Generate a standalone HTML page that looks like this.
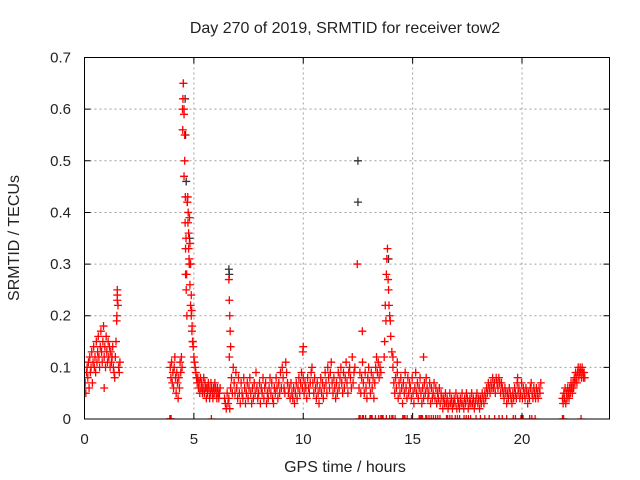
<!DOCTYPE html>
<html><head><meta charset="utf-8"><style>
html,body{margin:0;padding:0;background:#fff;}
svg{display:block;font-family:"Liberation Sans",sans-serif;}
</style></head><body>
<svg id="chart" width="640" height="480" viewBox="0 0 640 480" xmlns="http://www.w3.org/2000/svg">
<defs><clipPath id="plotclip"><rect x="84.5" y="57.5" width="525" height="361.5"/></clipPath></defs>
<rect width="640" height="480" fill="#fff"/>
<g id="grid"></g>
<g id="ticks"></g>
<g id="marks" clip-path="url(#plotclip)"></g>
<rect x="84.5" y="57.5" width="525" height="361.5" fill="none" stroke="#000" stroke-width="1"/>
<text x="345" y="33" font-size="16" text-anchor="middle" fill="#222">Day 270 of 2019, SRMTID for receiver tow2</text>
<text x="345" y="472" font-size="16" text-anchor="middle" fill="#222">GPS time / hours</text>
<text x="0" y="0" font-size="16" text-anchor="middle" fill="#222" transform="translate(19,238) rotate(-90)">SRMTID / TECUs</text>
</svg>
<script>
const xTicks = [0,5,10,15,20];
const yTicks = [0,0.1,0.2,0.3,0.4,0.5,0.6,0.7];
const yTickLabels = ["0","0.1","0.2","0.3","0.4","0.5","0.6","0.7"];
const segStart = [0.0,3.92,6.4,12.55,14.1,21.85];
const segStep = [0.03,0.03,0.04,0.04,0.04,0.03];
const segA = [0.06,0.07,0.05,0.09,0.1,0.08,0.11,0.06,0.12,0.09,0.1,0.13,0.07,0.11,0.14,0.1,0.12,0.09,0.15,0.11,0.13,0.16,0.12,0.1,0.14,0.17,0.13,0.11,0.15,0.18,0.12,0.14,0.1,0.16,0.13,0.11,0.15,0.12,0.14,0.1,0.13,0.11,0.12,0.14,0.1,0.09,0.08,0.12,0.15,0.19,0.25,0.22,0.1,0.09,0.11];
const segB = [0.1,0.08,0.11,0.07,0.09,0.06,0.1,0.12,0.08,0.05,0.09,0.07,0.04,0.08,0.06,0.11,0.09,0.12,0.1,0.56,0.65,0.6,0.5,0.43,0.35,0.28,0.42,0.38,0.33,0.3,0.26,0.22,0.2,0.17,0.15,0.14,0.12,0.11,0.1,0.09,0.08,0.07,0.08,0.06,0.07,0.05,0.08,0.06,0.07,0.05,0.06,0.08,0.05,0.07,0.06,0.04,0.06,0.05,0.07,0.06,0.04,0.05,0.07,0.06,0.05,0.04,0.06,0.05,0.07,0.06,0.05,0.04,0.06,0.05,0.04,0.05,0.06];
const segC = [0.04,0.03,0.02,0.05,0.03,0.04,0.02,0.06,0.08,0.05,0.1,0.07,0.05,0.09,0.06,0.04,0.08,0.05,0.03,0.07,0.05,0.04,0.08,0.06,0.03,0.05,0.07,0.04,0.06,0.08,0.05,0.03,0.06,0.04,0.07,0.05,0.09,0.06,0.04,0.05,0.07,0.03,0.06,0.05,0.08,0.04,0.06,0.07,0.03,0.05,0.04,0.06,0.08,0.05,0.07,0.04,0.03,0.06,0.05,0.08,0.06,0.04,0.07,0.05,0.09,0.06,0.1,0.08,0.06,0.05,0.11,0.09,0.07,0.05,0.06,0.04,0.07,0.05,0.04,0.06,0.03,0.05,0.07,0.04,0.06,0.08,0.05,0.07,0.09,0.06,0.08,0.05,0.07,0.06,0.04,0.08,0.06,0.05,0.07,0.09,0.1,0.07,0.05,0.08,0.06,0.04,0.07,0.05,0.03,0.06,0.08,0.05,0.07,0.04,0.06,0.09,0.07,0.05,0.1,0.08,0.06,0.09,0.11,0.07,0.05,0.08,0.06,0.04,0.07,0.05,0.09,0.06,0.08,0.1,0.07,0.05,0.09,0.06,0.08,0.11,0.07,0.05,0.09,0.1,0.08,0.06,0.12,0.07,0.09,0.1];
const segD = [0.06,0.09,0.05,0.08,0.11,0.07,0.05,0.09,0.06,0.04,0.08,0.1,0.07,0.05,0.09,0.06,0.08,0.04,0.07,0.1,0.12,0.09,0.11,0.08,0.1,0.09];
const segE = [0.1,0.07,0.05,0.08,0.06,0.09,0.04,0.07,0.05,0.08,0.06,0.03,0.07,0.05,0.09,0.06,0.04,0.08,0.05,0.07,0.06,0.04,0.08,0.05,0.03,0.06,0.09,0.05,0.07,0.04,0.06,0.08,0.05,0.03,0.06,0.04,0.07,0.05,0.08,0.06,0.04,0.05,0.07,0.03,0.06,0.04,0.05,0.07,0.04,0.06,0.03,0.05,0.04,0.06,0.03,0.05,0.04,0.02,0.04,0.03,0.05,0.03,0.04,0.02,0.03,0.05,0.03,0.04,0.02,0.03,0.04,0.03,0.05,0.02,0.04,0.03,0.02,0.04,0.03,0.05,0.03,0.02,0.04,0.03,0.05,0.04,0.02,0.03,0.04,0.03,0.05,0.03,0.04,0.02,0.03,0.04,0.05,0.03,0.04,0.02,0.04,0.03,0.05,0.04,0.03,0.05,0.04,0.06,0.05,0.07,0.06,0.05,0.07,0.06,0.08,0.06,0.07,0.05,0.08,0.07,0.06,0.08,0.07,0.05,0.07,0.06,0.05,0.04,0.06,0.05,0.03,0.05,0.04,0.06,0.05,0.04,0.03,0.05,0.04,0.06,0.05,0.04,0.07,0.05,0.06,0.04,0.05,0.07,0.04,0.06,0.05,0.04,0.06,0.05,0.03,0.05,0.04,0.06,0.07,0.05,0.04,0.06,0.05,0.04,0.06,0.05,0.04,0.06,0.05,0.07];
const segF = [0.04,0.03,0.05,0.04,0.06,0.03,0.05,0.04,0.06,0.05,0.04,0.06,0.05,0.07,0.06,0.05,0.07,0.06,0.08,0.07,0.09,0.08,0.07,0.09,0.1,0.08,0.09,0.1,0.09,0.08,0.1,0.09,0.08,0.09,0.08];
const segValues = [segA,segB,segC,segD,segE,segF];
const spikeHours = [4.48,4.5,4.52,4.55,4.55,4.58,4.6,4.62,4.62,4.65,4.68,4.7,4.72,4.74,4.76,4.78,4.8,4.82,4.85,4.88,4.9,4.92,4.95,6.6,6.62,6.64,6.66,6.68,6.62,12.47,12.7,13.85,13.82,13.8,13.88,13.9,13.92,13.95,13.98,14.0,13.75,13.78,13.7,13.72,14.05,14.1,14.3,0.9,1.5,1.5,1.48,10.0,9.98,15.5,19.8];
const spikeValues = [0.6,0.62,0.65,0.59,0.47,0.55,0.38,0.33,0.28,0.25,0.2,0.42,0.43,0.4,0.36,0.31,0.39,0.34,0.3,0.24,0.21,0.18,0.15,0.27,0.23,0.2,0.17,0.14,0.12,0.3,0.17,0.33,0.31,0.28,0.27,0.25,0.22,0.2,0.19,0.16,0.22,0.19,0.12,0.15,0.13,0.12,0.11,0.06,0.24,0.23,0.2,0.14,0.13,0.12,0.08];
const zeroHours = [3.9,3.92,3.94,3.96,5.8,12.55,12.6,12.7,12.75,12.85,13.05,13.1,13.15,13.3,13.45,13.55,13.6,13.65,13.8,13.95,14.05,14.1,14.2,14.55,14.6,14.65,14.75,14.95,15.3,15.35,15.4,15.45,15.6,15.65,15.75,15.85,15.95,16.05,16.15,16.25,16.55,16.6,16.7,16.8,16.95,17.05,17.15,17.35,17.45,17.55,17.65,17.9,18.1,18.3,18.5,18.75,18.95,19.1,19.3,19.6,19.7,19.95,20.05,20.35,20.45,20.6,21.85,21.9,22.7];
const blackHours = [12.5,12.5,6.6,6.62,4.6,4.62,4.65,4.8,13.9];
const blackValues = [0.5,0.42,0.29,0.28,0.62,0.55,0.46,0.35,0.31];

const NS = "http://www.w3.org/2000/svg";
function xScale(h){ return 84.5 + h * 21.875; }
function yScale(v){ return 419 - v * 516.4; }
const grid = document.getElementById('grid');
const ticks = document.getElementById('ticks');
const marks = document.getElementById('marks');
function mk(tag, attrs, parent){ const e=document.createElementNS(NS,tag); for(const k in attrs) e.setAttribute(k,attrs[k]); parent.appendChild(e); return e; }

xTicks.forEach(function(t){
  const x = xScale(t);
  if (t>0) {
    const g = mk('line',{x1:x,x2:x,y1:57.5,y2:419,stroke:'#a0a0a0','stroke-dasharray':'2,3'},grid);
    
    
  }
  const tk = mk('path',{d:'M'+x+' 419v-6M'+x+' 57.5v6',stroke:'#000'},ticks);
  
  
  const lb = mk('text',{x:x,y:444,'font-size':15,'text-anchor':'middle',fill:'#222'},ticks);
  lb.textContent = String(t);
  
  
});
yTicks.forEach(function(t,i){
  const y = yScale(t);
  if (t>0 && t<0.7) {
    const g = mk('line',{x1:84.5,x2:609.5,y1:y,y2:y,stroke:'#a0a0a0','stroke-dasharray':'2,3'},grid);
    
    
  }
  const tk = mk('path',{d:'M84.5 '+y+'h6M609.5 '+y+'h-6',stroke:'#000'},ticks);
  
  
  const lb = mk('text',{x:71,y:y+5,'font-size':15,'text-anchor':'end',fill:'#222'},ticks);
  lb.textContent = yTickLabels[i];
  
  
});

function plus(h,v,color,name){
  const x = xScale(h), y = yScale(v);
  const p = mk('path',{d:'M'+(x-4)+' '+y+'h8M'+x+' '+(y-4)+'v8',stroke:color,'stroke-width':1.3,fill:'none'},marks);
  
  
}
blackHours.forEach(function(h,i){ plus(h, blackValues[i], '#333333', 'srmtid-alt-point'); });
segValues.forEach(function(vals,si){
  vals.forEach(function(v,i){ plus(segStart[si]+i*segStep[si], v, '#ff0000', 'srmtid-point'); });
});
spikeHours.forEach(function(h,i){ plus(h, spikeValues[i], '#ff0000', 'srmtid-point'); });
zeroHours.forEach(function(h){ plus(h, 0, '#ff0000', 'srmtid-zero-point'); });
</script>
</body></html>
